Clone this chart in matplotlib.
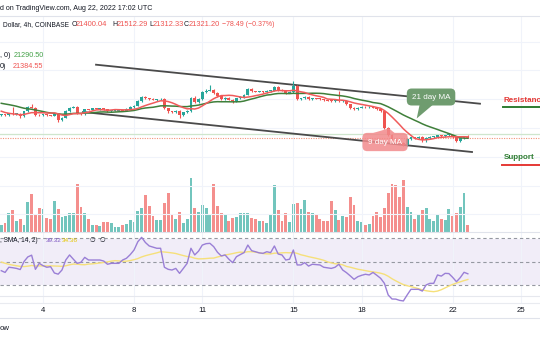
import numpy as np
import pandas as pd
import matplotlib
matplotlib.use("Agg")
import matplotlib.pyplot as plt
from matplotlib.patches import Polygon
from matplotlib.lines import Line2D

# ---- BTC/USD 4h candles, Coinbase, Aug 2 04:00 -> Aug 22 16:00 UTC ----
first_candle_day = 2 + 4 / 24          # day-of-month of the first 4h bar

# closes of the 20 bars before the window (needed for the moving averages)
closes_before = [23900, 23950, 24050, 24200, 24350, 24500, 24300, 24100, 24000, 23950,
                 24050, 24150, 23700, 23500, 23300, 23250, 23100, 22950, 22850, 22900]

closes = [22950, 22880, 23010, 22960, 22980,
          22800, 23150, 23450, 23420, 22900, 22870,
          22950, 22880, 22850, 22950, 22560, 22700,
          23180, 23420, 23460, 23000, 22950, 23300,
          23280, 23360, 23320, 23350, 23300, 23180,
          23200, 23210, 23230, 23200, 23340, 23450,
          23560, 23850, 24150, 24050, 24000, 23950,
          23980, 24000, 23380, 23150, 23100, 23180,
          22900, 23080, 23200, 24060, 23800, 24000,
          24500, 24600, 24640, 24450, 24200, 24000,
          24080, 23960, 23860, 24050, 24150, 24300,
          24720, 24550, 24520, 24540, 24490, 24560,
          24600, 24850, 24650, 24600, 24450, 24500,
          24900, 24000, 24050, 24170, 23980, 24050,
          24030, 24000, 23920, 23890, 23860, 23900,
          23850, 23870, 23650, 23400, 23300, 23420,
          23460, 23430, 23450, 23420, 23300, 23150,
          21980, 21510, 21200, 21100, 20980, 20850,
          21250, 21350, 21300, 21380, 21149.55, 21300,
          21380, 21400, 21480, 21450, 21490, 21500,
          21400, 21120, 21299.71, 21400.04, 21321.20]

wick_up = [40, 30, 60, 460, 40,
           30, 50, 80, 195, 40, 50,
           40, 30, 50, 60, 40, 50,
           60, 60, 40, 60, 30, 40,
           30, 40, 30, 40, 30, 40,
           30, 40, 30, 40, 50, 60,
           50, 90, 90, 80, 60, 50,
           60, 50, 60, 40, 50, 40,
           60, 50, 60, 70, 150, 60,
           80, 90, 340, 60, 50, 40,
           60, 50, 40, 50, 60, 80,
           80, 40, 40, 50, 40, 50,
           40, 65, 50, 40, 50, 40,
           360, 80, 60, 50, 60, 40,
           40, 50, 30, 40, 30, 50,
           660, 40, 50, 40, 40, 60,
           40, 40, 50, 40, 40, 30,
           80, 60, 60, 50, 40, 60,
           70, 60, 50, 60, 40, 50,
           40, 50, 60, 40, 50, 60,
           40, 40, 50, 60, 112.25]

wick_down = [50, 40, 40, 30, 60,
             85, 40, 40, 40, 60, 40,
             30, 40, 40, 40, 120, 40,
             30, 40, 30, 60, 40, 40,
             30, 40, 30, 40, 30, 40,
             40, 30, 40, 30, 40, 40,
             40, 50, 60, 50, 60, 40,
             50, 40, 60, 80, 60, 50,
             200, 60, 50, 60, 80, 50,
             50, 40, 60, 60, 70, 80,
             60, 50, 120, 40, 50, 40,
             40, 60, 40, 40, 50, 40,
             50, 40, 50, 40, 60, 40,
             40, 80, 60, 50, 60, 40,
             40, 50, 40, 40, 40, 50,
             50, 60, 50, 80, 60, 40,
             40, 50, 40, 50, 60, 50,
             80, 90, 60, 80, 60, 90,
             80, 60, 70, 50, 100, 150,
             40, 50, 40, 60, 40, 50,
             60, 120, 60, 50, 8.87]

volume = [700, 930, 1930, 2200, 1070, 1270, 700, 3000, 3770, 1700,
          2430, 2270, 1370, 1330, 3070, 2330, 1500, 1570, 1870, 1900,
          4770, 2530, 1900, 1270, 670, 670, 600, 1000, 1000, 930,
          500, 500, 700, 800, 1170, 1030, 2100, 2400, 3670, 2600,
          1570, 1170, 1170, 2930, 3900, 1830, 1270, 2030, 930, 1270,
          5370, 2430, 2030, 2670, 2370, 1700, 4830, 2600, 1900, 1670,
          1070, 1370, 1530, 1870, 1870, 1870, 1370, 1270, 1070, 1070,
          870, 1830, 4670, 2200, 1100, 1870, 1000, 2770, 2930, 2270,
          3170, 2030, 1900, 1800, 1270, 1100, 1100, 3100, 2200, 1170,
          1600, 1530, 3500, 2700, 1100, 1000, 700, 770, 1600, 2000,
          1500, 2430, 3900, 4830, 4670, 3500, 5200, 2530, 2000, 1270,
          1670, 2200, 2370, 1300, 1100, 1830, 1270, 1170, 2270, 1570,
          1930, 2470, 3900, 670]

# RSI(14) readings; the 13 before the window feed the RSI-based SMA(14)
rsi_before = [55, 58, 54, 52, 50, 53, 49, 47, 50, 46, 48, 44, 45]
rsi = [42, 40.5, 45, 44.6, 44, 43, 50, 54, 55.5, 43.2,
       48.4, 46.4, 45, 45.5, 40, 39, 42.6, 51.3, 55.7, 52,
       48.4, 49.3, 53.6, 51.3, 51.3, 51.3, 51.3, 50.4, 47.6, 48.4,
       48.4, 48.4, 51.3, 52.8, 56, 60, 67.2, 71, 66.5, 63.5,
       62.5, 61.5, 61.5, 45, 43.2, 42.6, 44, 39.7, 44, 48.4,
       61.5, 55.7, 59, 64.3, 65.5, 65.8, 62.9, 58, 54.8, 55.7,
       52, 49, 54.2, 56, 57.7, 64.3, 59.4, 58.5, 57.5, 57.1,
       58.5, 57.7, 63.5, 56.5, 55.7, 51.3, 52, 60, 47, 47,
       49, 46, 47.6, 47.3, 47, 45, 44.5, 44, 45, 47.6,
       42.6, 40.3, 37.5, 34.5, 36.8, 38, 38.9, 38.3, 40.5, 38,
       35.4, 31, 20.9, 17.4, 17.3, 16.2, 15.7, 20.9, 25.8, 25.8,
       25.8, 24.3, 29.6, 31.0, 31, 38.3, 37.3, 39.7, 39.5, 36.22,
       32.4, 36, 40.6, 39.32]

# descending channel drawn on the chart (day, price)
channel_top_days = [6.33, 23.20]
channel_top_prices = [26393, 23686]
channel_bottom_days = [5.76, 22.85]
channel_bottom_prices = [23110, 20334]
level_line_price = 21584

day_ticks = [4, 8, 11, 15, 18, 22, 25]

TEAL = "#26a69a"
RED = "#ef5350"
GRID = "#f0f3fa"
DARK = "#131722"

# ---- derived series ----
closes = np.array(closes)
all_closes = pd.Series(np.concatenate([closes_before, closes]))
opens = all_closes.shift(1).to_numpy()[len(closes_before):]
ma9 = all_closes.rolling(9).mean().to_numpy()[len(closes_before):]
ma21 = all_closes.rolling(21).mean().to_numpy()[len(closes_before):]
highs = np.maximum(opens, closes) + np.array(wick_up)
lows = np.minimum(opens, closes) - np.array(wick_down)
rsi_all = pd.Series(np.concatenate([rsi_before, rsi]))
rsi_ma = rsi_all.rolling(14).mean().to_numpy()[len(rsi_before):]
days = first_candle_day + np.arange(len(closes)) / 6
rising = closes >= opens
colors = np.where(rising, TEAL, RED)

plt.rcParams["font.family"] = ["Liberation Sans", "DejaVu Sans"]

W, H = 540, 340
fig = plt.figure(figsize=(W / 100, H / 100), dpi=100)
fig.patch.set_facecolor("white")


def pane(top, bottom):
    return [0, 1 - bottom / H, 1, (bottom - top) / H]


def fx(x):
    return x / W


def fy(y):
    return 1 - y / H


x_lim = (4 - 43 / 22.76, 4 + 497 / 22.76)

ax_vol = fig.add_axes(pane(16, 232))
ax = fig.add_axes(pane(16, 232))
ax_rsi = fig.add_axes(pane(232, 303))
ax.patch.set_visible(False)

for a in (ax_vol, ax, ax_rsi):
    a.set_xlim(*x_lim)
    a.set_xticks(day_ticks)
    a.tick_params(length=0, labelleft=False, labelbottom=False)
    for s in a.spines.values():
        s.set_visible(False)

# volume overlay
ax_vol.set_ylim(0, 21600)
ax_vol.set_yticks([])
ax_vol.xaxis.grid(True, color=GRID, lw=0.8)
ax_vol.bar(days, volume, width=0.125, color=colors, alpha=0.65, lw=0)

# price pane
ax.set_ylim(22000 - 104 * 69.4, 22000 + 112 * 69.4)
ax.set_yticks(np.arange(16000, 30000, 2000))
ax.yaxis.grid(True, color=GRID, lw=0.8)
ax.set_axisbelow(True)

ax.axhline(level_line_price, color="#cfe6cd", lw=0.9, zorder=1)
ax.axhline(closes[-1], color="#ef7a5a", lw=0.8, ls=(0, (1, 1.2)), alpha=0.8, zorder=1)

ax.plot(channel_top_days, channel_top_prices, color="#4a4a4a", lw=1.3, zorder=2)
ax.plot(channel_bottom_days, channel_bottom_prices, color="#4a4a4a", lw=1.3, zorder=2)

ax.vlines(days, lows, highs, colors=colors, lw=0.8, zorder=3)
body = np.maximum(np.abs(closes - opens), 60)
ax.bar(days, body, bottom=np.minimum(opens, closes), width=0.125, color=colors, lw=0, zorder=3)

ax.plot(days, ma21, color="#3f7f3a", lw=1.1, zorder=4)
ax.plot(days, ma9, color="#f05b5b", lw=1.1, zorder=4)

# MA callouts
green_box = "#6f9c6f"
ax.text(21.05, 24151, "21 day MA", ha="center", va="center", color="white", fontsize=5.8,
        zorder=6, bbox=dict(boxstyle="round,pad=0.62,rounding_size=0.6", fc=green_box, ec="none"))
ax.add_patch(Polygon([[20.55, 23640], [21.15, 23640], [20.42, 22660]],
                     closed=True, fc=green_box, ec="none", zorder=6))
pink_box = "#f28a8c"
ax.text(19.03, 21028, "9 day MA", ha="center", va="center", color="white", fontsize=5.8,
        zorder=6, bbox=dict(boxstyle="round,pad=0.7,rounding_size=0.6", fc=pink_box, ec="none",
                            alpha=0.85))
ax.add_patch(Polygon([[18.5, 21650], [19.45, 21650], [19.2, 21980]],
                     closed=True, fc=pink_box, ec="none", alpha=0.85, zorder=6))

# RSI pane
ax_rsi.set_ylim(30 - 18.5 / 1.15, 70 + 6.5 / 1.15)
ax_rsi.set_yticks([20])
ax_rsi.yaxis.grid(True, color="#e6e8ee", lw=0.8)
ax_rsi.xaxis.grid(True, color=GRID, lw=0.8)
ax_rsi.axhspan(30, 70, color="#7e57c2", alpha=0.1, lw=0)
for lvl in (70, 50, 30):
    ax_rsi.axhline(lvl, color="#9598a1", lw=0.8, ls=(0, (3, 2.5)))
ax_rsi.plot(days, rsi_ma, color="#f6e07a", lw=1.0)
ax_rsi.plot(days, rsi, color="#9a7fd6", lw=1.0)

# time axis
for d in day_ticks:
    fig.text(fx(43 + (d - 4) * 22.76), fy(310.5), str(d), ha="center", va="center",
             fontsize=5.6, color=DARK)

for y, c in ((16, "#e0e3eb"), (232, "#e0e3eb"), (303, "#e9ebf0"), (318, "#e0e3eb")):
    fig.add_artist(Line2D([0, 1], [fy(y), fy(y)], color=c, lw=0.8))

# header texts
fig.text(fx(0), fy(8.5), "d on TradingView.com, Aug 22, 2022 17:02 UTC", fontsize=5.15,
         color=DARK, va="center")
hdr = [(3, "Dollar, 4h, COINBASE", DARK, 4.75), (71.5, "O", DARK, 5.0),
       (75.5, "21400.04", RED, 5.4), (112, "H", DARK, 5.0), (116.5, "21512.29", RED, 5.4),
       (149, "L", DARK, 5.0), (153, "21312.33", RED, 5.4), (184, "C", DARK, 5.0),
       (188.5, "21321.20", RED, 5.4), (221.5, "\u221278.49 (\u22120.37%)", RED, 5.0)]
for x, s, c, fs in hdr:
    fig.text(fx(x), fy(25), s, fontsize=fs, color=c, va="center")
fig.text(fx(0), fy(55.5), ", 0)", fontsize=5.2, color=DARK, va="center")
fig.text(fx(13.5), fy(55.5), "21290.50", fontsize=5.2, color="#43a047", va="center")
fig.text(fx(0), fy(66), "0)", fontsize=5.2, color=DARK, va="center")
fig.text(fx(12.5), fy(66), "21384.55", fontsize=5.2, color=RED, va="center")

fig.text(fx(0), fy(241), ", SMA, 14, 2)", fontsize=4.7, color=DARK, va="center")
fig.text(fx(45.5), fy(241), "39.32", fontsize=4.6, color="#7e57c2", va="center")
fig.text(fx(61.5), fy(241), "34.36", fontsize=4.6, color="#e6c800", va="center")
fig.text(fx(90), fy(241), "\u2205", fontsize=4.7, color=DARK, va="center")
fig.text(fx(99.5), fy(241), "\u2205", fontsize=4.7, color=DARK, va="center")

# support / resistance tags
fig.text(fx(504), fy(100.5), "Resistance", fontsize=5.8, fontweight="bold", color="#e53935",
         va="center")
fig.add_artist(Line2D([fx(503), 1], [fy(106.5), fy(106.5)], color="#2e7d32", lw=1.4))
fig.text(fx(504), fy(157.5), "Support", fontsize=5.8, fontweight="bold", color="#2e7d32",
         va="center")
fig.add_artist(Line2D([fx(502), 1], [fy(164.5), fy(164.5)], color="#e53935", lw=1.4))

fig.text(fx(0), fy(329), "ow", fontsize=5.6, color=DARK, va="center")

fig.savefig("out.png", dpi=100, facecolor="white")
